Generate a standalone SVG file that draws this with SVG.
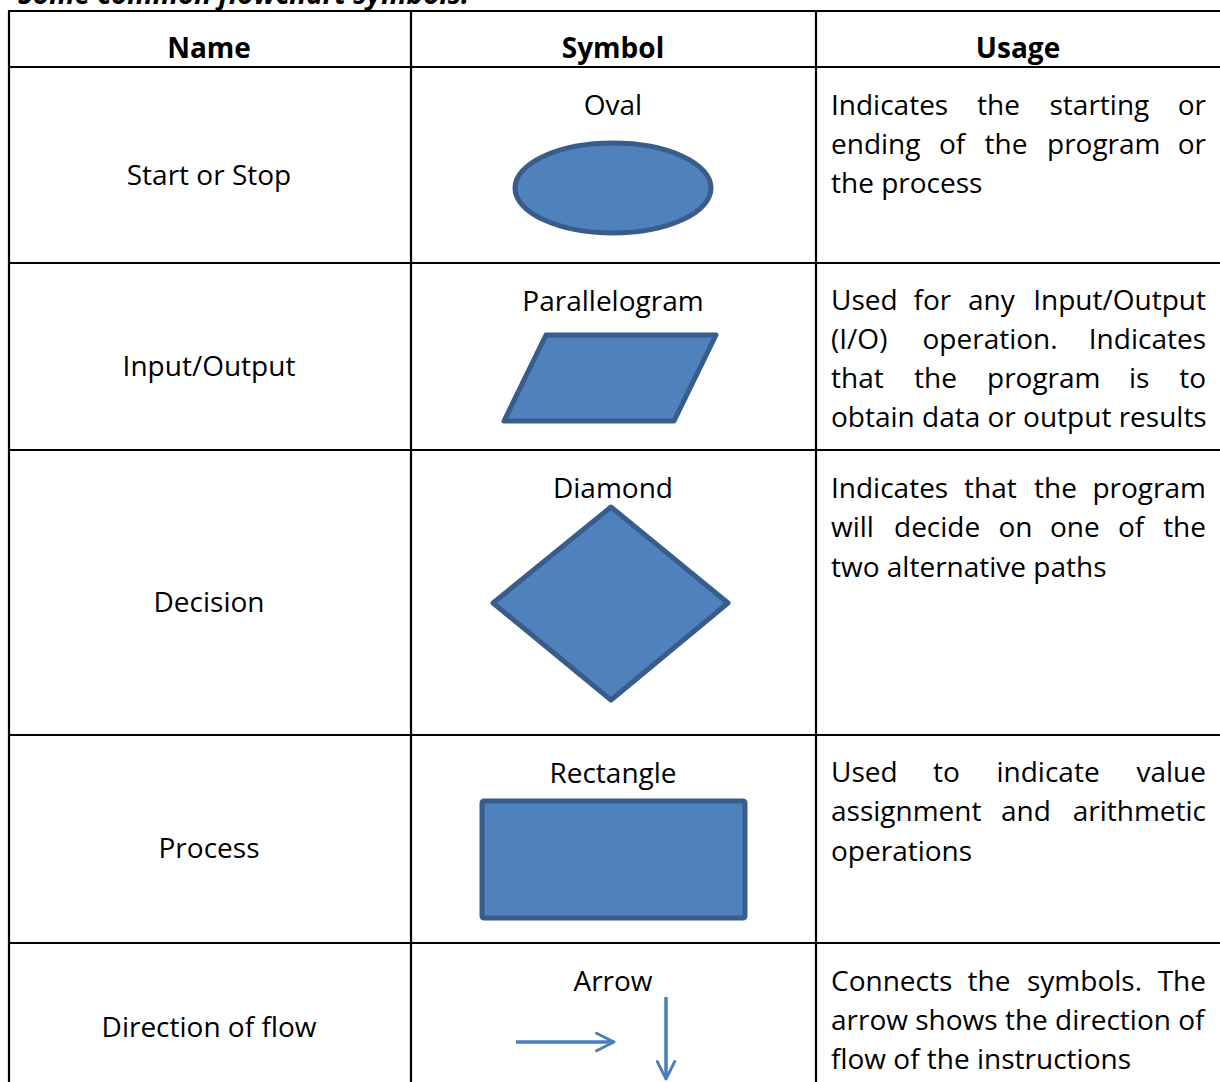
<svg xmlns="http://www.w3.org/2000/svg" width="1220" height="1082" viewBox="0 0 1220 1082">
  <style>
    text { font-family: "Open Sans", "Noto Sans", "Liberation Sans", sans-serif; font-size: 28px; fill: #000; }
    .hd { font-weight: bold; text-anchor: middle; }
    .mid { text-anchor: middle; }
    .end { text-anchor: end; }
    .title { font-weight: bold; font-style: italic; font-size: 28px; }
    .grid line { stroke: #000; stroke-width: 2.2; }
    .shape { fill: #4f81bd; stroke: #385d8a; stroke-width: 5; stroke-linejoin: round; }
    .flow { fill: none; stroke: #4a7ebb; stroke-width: 3.5; }
  </style>
  <defs>
    <marker id="chev" viewBox="0 0 12 12" refX="11" refY="6" markerWidth="6" markerHeight="6" orient="auto" markerUnits="strokeWidth">
      <path d="M1,1 L11,6 L1,11" fill="none" stroke="#4a7ebb" stroke-width="1.6" stroke-linecap="round" stroke-linejoin="round"/>
    </marker>
  </defs>

  <rect width="1220" height="1082" fill="#fff"/>

  <!-- caption above the table, clipped by the top edge -->
  <text class="title" x="18" y="4">Some common flowchart symbols:</text>

  <!-- table grid -->
  <g id="grid" class="grid">
    <line x1="9" y1="11" x2="1220" y2="11"/>
    <line x1="9" y1="67" x2="1220" y2="67"/>
    <line x1="9" y1="263" x2="1220" y2="263"/>
    <line x1="9" y1="450" x2="1220" y2="450"/>
    <line x1="9" y1="735" x2="1220" y2="735"/>
    <line x1="9" y1="943" x2="1220" y2="943"/>
    <line x1="9" y1="10" x2="9" y2="1082"/>
    <line x1="411" y1="10" x2="411" y2="1082"/>
    <line x1="816" y1="10" x2="816" y2="1082"/>
  </g>

  <!-- header row -->
  <g id="header">
    <text class="hd" x="209" y="58">Name</text>
    <text class="hd" x="613" y="58">Symbol</text>
    <text class="hd" x="1018" y="58">Usage</text>
  </g>

  <!-- row: start / stop -->
  <g id="row-start-stop">
    <text class="mid" x="209" y="185">Start or Stop</text>
    <text class="mid" x="613" y="115">Oval</text>
    <ellipse id="oval" class="shape" cx="613" cy="188" rx="98" ry="45"/>
    <text x="831" y="115">Indicates<tspan x="977">the</tspan><tspan x="1049.5">starting</tspan><tspan class="end" x="1206">or</tspan></text>
    <text x="831" y="154">ending<tspan x="939">of</tspan><tspan x="984.5">the</tspan><tspan x="1047">program</tspan><tspan class="end" x="1206">or</tspan></text>
    <text x="831" y="193">the process</text>
  </g>

  <!-- row: input / output -->
  <g id="row-io">
    <text class="mid" x="209" y="376">Input/Output</text>
    <text class="mid" x="613" y="311">Parallelogram</text>
    <polygon id="parallelogram" class="shape" points="546,335 716,335 674,421 504,421"/>
    <text x="831" y="310">Used<tspan x="913.5">for</tspan><tspan x="968">any</tspan><tspan class="end" x="1206">Input/Output</tspan></text>
    <text x="831" y="349">(I/O)<tspan x="922.5">operation.</tspan><tspan class="end" x="1206">Indicates</tspan></text>
    <text x="831" y="388">that<tspan x="914">the</tspan><tspan x="987">program</tspan><tspan x="1129">is</tspan><tspan class="end" x="1206">to</tspan></text>
    <text x="831" y="427">obtain data or output results</text>
  </g>

  <!-- row: decision -->
  <g id="row-decision">
    <text class="mid" x="209" y="612">Decision</text>
    <text class="mid" x="613" y="498">Diamond</text>
    <polygon id="diamond" class="shape" points="611,507 728,603 611,700 493,603"/>
    <text x="831" y="498">Indicates<tspan x="964">that</tspan><tspan x="1034">the</tspan><tspan class="end" x="1206">program</tspan></text>
    <text x="831" y="537">will<tspan x="894">decide</tspan><tspan x="998.5">on</tspan><tspan x="1050">one</tspan><tspan x="1118">of</tspan><tspan class="end" x="1206">the</tspan></text>
    <text x="831" y="577">two alternative paths</text>
  </g>

  <!-- row: process -->
  <g id="row-process">
    <text class="mid" x="209" y="858">Process</text>
    <text class="mid" x="613" y="783">Rectangle</text>
    <rect id="rectangle" class="shape" x="482" y="801" width="263" height="117" rx="2"/>
    <text x="831" y="782">Used<tspan x="933">to</tspan><tspan x="996.5">indicate</tspan><tspan class="end" x="1206">value</tspan></text>
    <text x="831" y="821">assignment<tspan x="1001">and</tspan><tspan class="end" x="1206">arithmetic</tspan></text>
    <text x="831" y="861">operations</text>
  </g>

  <!-- row: direction of flow -->
  <g id="row-flow">
    <text class="mid" x="209" y="1037">Direction of flow</text>
    <text class="mid" x="613" y="991">Arrow</text>
    <text x="831" y="991">Connects<tspan x="967.5">the</tspan><tspan x="1027">symbols.</tspan><tspan class="end" x="1206">The</tspan></text>
    <text x="831" y="1030">arrow shows the direction of</text>
    <text x="831" y="1069">flow of the instructions</text>
  </g>

  <!-- connectors -->
  <g id="connectors">
    <line class="flow" x1="516" y1="1042" x2="614" y2="1042" marker-end="url(#chev)"/>
    <line class="flow" x1="666" y1="997" x2="666" y2="1079" marker-end="url(#chev)"/>
  </g>
</svg>
